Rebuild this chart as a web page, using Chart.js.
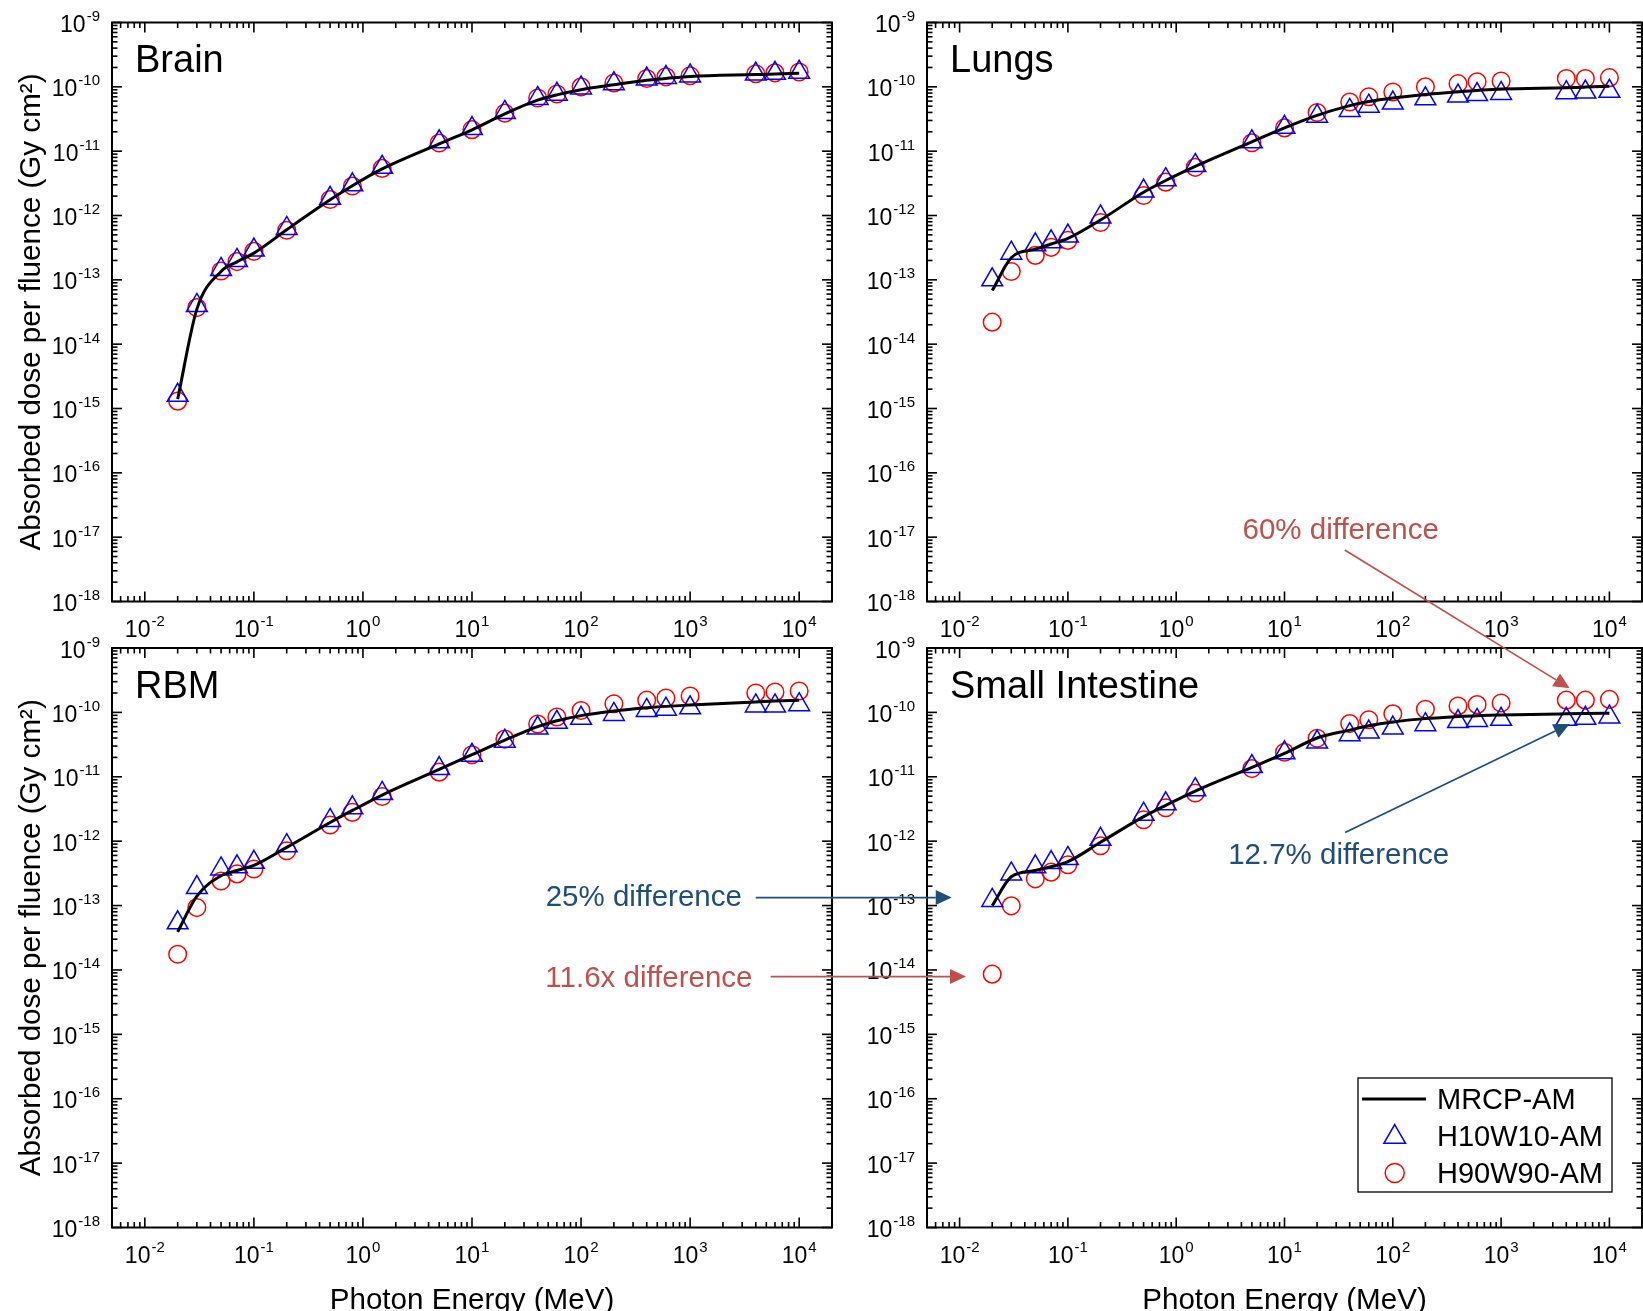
<!DOCTYPE html>
<html>
<head>
<meta charset="utf-8">
<script src="https://cdn.jsdelivr.net/npm/chart.js@4.4.1/dist/chart.umd.min.js"></script>
<style>
  html, body { margin: 0; padding: 0; background: #fff; overflow: hidden; }
  #wrap { position: relative; width: 1643px; height: 1311px; }
  #wrap canvas { position: absolute; left: 0; top: 0; width: 1643px; height: 1311px; }
</style>
</head>
<body>
<div id="wrap">
  <canvas id="brain" width="1643" height="1311"></canvas>
  <canvas id="lungs" width="1643" height="1311"></canvas>
  <canvas id="rbm" width="1643" height="1311"></canvas>
  <canvas id="small" width="1643" height="1311"></canvas>
  <canvas id="notes" width="1643" height="1311"></canvas>
</div>
<script>
// photon energies (MeV)
const energy = [0.02, 0.03, 0.05, 0.07, 0.1, 0.2, 0.5, 0.8, 1.5, 5, 10, 20, 40, 60, 100, 200, 400, 600, 1000, 4000, 6000, 10000];

// Brain
const brainMRCP = [1.4e-15, 3.5e-14, 1.35e-13, 1.9e-13, 2.6e-13, 6.0e-13, 1.75e-12, 2.9e-12, 5.3e-12, 1.3e-11, 2.15e-11, 3.8e-11, 6.2e-11, 7.5e-11, 9.0e-11, 1.08e-10, 1.27e-10, 1.35e-10, 1.45e-10, 1.55e-10, 1.58e-10, 1.62e-10];
const brainH10 = [1.6e-15, 4.0e-14, 1.45e-13, 2.0e-13, 2.9e-13, 6.3e-13, 1.85e-12, 3.0e-12, 5.6e-12, 1.4e-11, 2.25e-11, 4.0e-11, 6.6e-11, 7.7e-11, 9.6e-11, 1.12e-10, 1.32e-10, 1.40e-10, 1.48e-10, 1.58e-10, 1.62e-10, 1.68e-10];
const brainH90 = [1.3e-15, 3.7e-14, 1.37e-13, 1.92e-13, 2.77e-13, 5.9e-13, 1.77e-12, 2.88e-12, 5.4e-12, 1.34e-11, 2.16e-11, 3.9e-11, 6.7e-11, 7.75e-11, 1.0e-10, 1.15e-10, 1.35e-10, 1.43e-10, 1.49e-10, 1.6e-10, 1.65e-10, 1.7e-10];

// Lungs
const lungsMRCP = [6.8e-14, 2.2e-13, 3.0e-13, 3.6e-13, 4.4e-13, 8.5e-13, 2.3e-12, 3.5e-12, 5.8e-12, 1.4e-11, 2.3e-11, 3.6e-11, 5.1e-11, 5.9e-11, 6.7e-11, 7.6e-11, 8.4e-11, 8.8e-11, 9.25e-11, 9.7e-11, 9.9e-11, 1.02e-10];
const lungsH10 = [1.0e-13, 2.6e-13, 3.5e-13, 3.9e-13, 4.8e-13, 9.5e-13, 2.4e-12, 3.6e-12, 6.0e-12, 1.4e-11, 2.35e-11, 3.5e-11, 4.3e-11, 5.0e-11, 5.6e-11, 6.5e-11, 7.2e-11, 7.6e-11, 7.9e-11, 8.1e-11, 8.3e-11, 8.5e-11];
const lungsH90 = [2.2e-14, 1.35e-13, 2.4e-13, 3.2e-13, 4.1e-13, 7.8e-13, 2.05e-12, 3.3e-12, 5.6e-12, 1.35e-11, 2.3e-11, 4.0e-11, 5.8e-11, 7.0e-11, 8.3e-11, 1.0e-10, 1.12e-10, 1.2e-10, 1.23e-10, 1.35e-10, 1.35e-10, 1.39e-10];

// RBM
const rbmMRCP = [3.9e-14, 1.4e-13, 2.9e-13, 3.5e-13, 4.2e-13, 8.0e-13, 1.95e-12, 3.0e-12, 5.2e-12, 1.3e-11, 2.2e-11, 3.7e-11, 6.0e-11, 7.4e-11, 8.9e-11, 1.05e-10, 1.18e-10, 1.24e-10, 1.3e-10, 1.45e-10, 1.5e-10, 1.55e-10];
const rbmH10 = [5.4e-14, 1.9e-13, 3.7e-13, 4.0e-13, 4.7e-13, 8.5e-13, 2.1e-12, 3.3e-12, 5.5e-12, 1.34e-11, 2.15e-11, 3.56e-11, 5.7e-11, 7.0e-11, 8.1e-11, 9.3e-11, 1.07e-10, 1.12e-10, 1.18e-10, 1.26e-10, 1.26e-10, 1.32e-10];
const rbmH90 = [1.75e-14, 9.3e-14, 2.4e-13, 3.1e-13, 3.7e-13, 7.1e-13, 1.78e-12, 2.8e-12, 4.95e-12, 1.18e-11, 2.2e-11, 3.85e-11, 6.6e-11, 8.5e-11, 1.07e-10, 1.36e-10, 1.55e-10, 1.67e-10, 1.8e-10, 2.0e-10, 2.07e-10, 2.15e-10];

// Small Intestine
const siMRCP = [1.0e-13, 2.8e-13, 3.5e-13, 4.0e-13, 4.8e-13, 9.6e-13, 2.4e-12, 3.6e-12, 6.0e-12, 1.4e-11, 2.3e-11, 4.0e-11, 5.3e-11, 6.2e-11, 7.1e-11, 8.0e-11, 8.6e-11, 8.9e-11, 9.1e-11, 9.5e-11, 9.6e-11, 9.7e-11];
const siH10 = [1.2e-13, 3.1e-13, 4.0e-13, 4.65e-13, 5.4e-13, 1.07e-12, 2.63e-12, 3.8e-12, 6.3e-12, 1.44e-11, 2.36e-11, 3.46e-11, 4.5e-11, 4.95e-11, 5.7e-11, 6.45e-11, 7.2e-11, 7.5e-11, 7.8e-11, 7.8e-11, 8.1e-11, 8.5e-11];
const siH90 = [8.6e-15, 9.9e-14, 2.6e-13, 3.3e-13, 4.3e-13, 8.5e-13, 2.15e-12, 3.3e-12, 5.6e-12, 1.34e-11, 2.4e-11, 3.97e-11, 6.7e-11, 7.7e-11, 9.5e-11, 1.12e-10, 1.26e-10, 1.32e-10, 1.4e-10, 1.55e-10, 1.55e-10, 1.59e-10];

// tick labels (powers of ten)
const xTickExp = [-2, -1, 0, 1, 2, 3, 4];
const yTickExp = [-18, -17, -16, -15, -14, -13, -12, -11, -10, -9];

const FONT = '"Liberation Sans", Arial, sans-serif';
const BLUE = '#0000ff';
const RED = '#ff0000';
const NOTE_RED = '#c0504d';
const NOTE_BLUE = '#1f4e79';

function pts(vals) {
  return energy.map((e, i) => ({ x: e, y: vals[i] }));
}

// "10" with a raised exponent
function drawPow(ctx, exp, x, y, align) {
  ctx.font = '23px ' + FONT;
  const w1 = ctx.measureText('10').width;
  ctx.font = '15px ' + FONT;
  const w2 = ctx.measureText(String(exp)).width;
  const x0 = align === 'right' ? x - w1 - w2 - 1 : x - (w1 + w2 + 1) / 2;
  ctx.textAlign = 'left';
  ctx.textBaseline = 'alphabetic';
  ctx.font = '23px ' + FONT;
  ctx.fillText('10', x0, y);
  ctx.font = '15px ' + FONT;
  ctx.fillText(String(exp), x0 + w1 + 1, y - 11);
}

function seg(ctx, x1, y1, x2, y2) {
  ctx.beginPath();
  ctx.moveTo(x1, y1);
  ctx.lineTo(x2, y2);
  ctx.stroke();
}

function marker(ctx, style, x, y, r, color) {
  ctx.strokeStyle = color;
  ctx.lineWidth = 1.5;
  ctx.beginPath();
  if (style === 'triangle') {
    for (let k = 0; k < 3; k++) {
      const a = k * 2 * Math.PI / 3;
      const px = x + Math.sin(a) * r, py = y - Math.cos(a) * r;
      if (k === 0) ctx.moveTo(px, py); else ctx.lineTo(px, py);
    }
    ctx.closePath();
  } else {
    ctx.arc(x, y, r, 0, Math.PI * 2);
  }
  ctx.stroke();
}

// frame, inward ticks, tick labels, titles, legend
const framePlugin = {
  id: 'frame',
  afterDraw(chart, args, opts) {
    const ctx = chart.ctx;
    const a = chart.chartArea;
    const xs = chart.scales.x, ys = chart.scales.y;
    ctx.save();
    ctx.strokeStyle = '#000';
    ctx.fillStyle = '#000';
    ctx.lineWidth = 1.6;
    for (let e = -3; e <= 4; e++) {
      for (let m = 1; m <= 9; m++) {
        const v = m * Math.pow(10, e);
        if (v <= xs.min * 1.0001 || v >= xs.max * 0.9999) continue;
        const px = xs.getPixelForValue(v);
        const len = m === 1 ? 10 : 5.5;
        seg(ctx, px, a.bottom, px, a.bottom - len);
        seg(ctx, px, a.top, px, a.top + len);
      }
    }
    for (let e = -19; e <= -9; e++) {
      for (let m = 1; m <= 9; m++) {
        const v = m * Math.pow(10, e);
        if (v <= ys.min * 1.0001 || v >= ys.max * 0.9999) continue;
        const py = ys.getPixelForValue(v);
        const len = m === 1 ? 10 : 5.5;
        seg(ctx, a.left, py, a.left + len, py);
        seg(ctx, a.right, py, a.right - len, py);
      }
    }
    // major ticks at the corners
    [ys.min, ys.max].forEach(v => {
      const py = ys.getPixelForValue(v);
      seg(ctx, a.left, py, a.left + 10, py);
      seg(ctx, a.right, py, a.right - 10, py);
    });
    ctx.lineWidth = 2;
    ctx.strokeRect(a.left, a.top, a.right - a.left, a.bottom - a.top);

    xTickExp.forEach(e => drawPow(ctx, e, xs.getPixelForValue(Math.pow(10, e)), a.bottom + 35, 'center'));
    yTickExp.forEach(e => drawPow(ctx, e, a.left - 12, ys.getPixelForValue(Math.pow(10, e)) + 9.5, 'right'));

    ctx.textAlign = 'left';
    ctx.textBaseline = 'alphabetic';
    ctx.font = '38px ' + FONT;
    ctx.fillText(opts.name, a.left + 23, a.top + 49.5);

    if (opts.yTitle) {
      ctx.save();
      ctx.translate(40, (a.top + a.bottom) / 2);
      ctx.rotate(-Math.PI / 2);
      ctx.textAlign = 'center';
      ctx.font = '29.6px ' + FONT;
      ctx.fillText('Absorbed dose per fluence (Gy cm\u00b2)', 0, 0);
      ctx.restore();
    }
    if (opts.xTitle) {
      ctx.textAlign = 'center';
      ctx.font = '29.6px ' + FONT;
      ctx.fillText('Photon Energy (MeV)', (a.left + a.right) / 2, a.bottom + 81.5);
    }
    if (opts.legend) {
      const bx = a.right - 284, by = a.bottom - 149.5, bw = 254, bh = 114;
      ctx.fillStyle = '#fff';
      ctx.fillRect(bx, by, bw, bh);
      ctx.strokeStyle = '#000';
      ctx.lineWidth = 1.3;
      ctx.strokeRect(bx, by, bw, bh);
      const ds = chart.data.datasets;
      const rows = [by + 21, by + 58, by + 95];
      ctx.lineWidth = 3;
      seg(ctx, bx + 4, rows[0], bx + 68, rows[0]);
      marker(ctx, 'triangle', bx + 36.7, rows[1] + 1, 12.5, BLUE);
      marker(ctx, 'circle', bx + 36.7, rows[2], 9.5, RED);
      ctx.fillStyle = '#000';
      ctx.font = '29px ' + FONT;
      ctx.textAlign = 'left';
      ds.forEach((d, i) => ctx.fillText(d.label, bx + 79, rows[i] + 10));
    }
    ctx.restore();
  }
};

function makePanel(id, name, mrcp, h10, h90, pad, extra) {
  return new Chart(document.getElementById(id), {
    type: 'line',
    data: {
      datasets: [
        { label: 'MRCP-AM', data: pts(mrcp), borderColor: '#000', borderWidth: 3,
          pointRadius: 0, cubicInterpolationMode: 'monotone', fill: false },
        { label: 'H10W10-AM', data: pts(h10), showLine: false, pointStyle: 'triangle',
          pointRadius: 12, pointBorderWidth: 1.5, borderColor: BLUE,
          pointBorderColor: BLUE, pointBackgroundColor: 'rgba(0,0,0,0)' },
        { label: 'H90W90-AM', data: pts(h90), showLine: false, pointStyle: 'circle',
          pointRadius: 8.8, pointBorderWidth: 1.5, borderColor: RED,
          pointBorderColor: RED, pointBackgroundColor: 'rgba(0,0,0,0)' }
      ]
    },
    options: {
      responsive: false,
      maintainAspectRatio: false,
      animation: false,
      events: [],
      layout: { padding: pad, autoPadding: false },
      scales: {
        x: { type: 'logarithmic', min: 0.005, max: 20000, bounds: 'data', display: false },
        y: { type: 'logarithmic', min: 1e-18, max: 1e-9, bounds: 'data', display: false }
      },
      plugins: {
        legend: { display: false },
        tooltip: { enabled: false },
        frame: Object.assign({ name: name }, extra)
      }
    },
    plugins: [framePlugin]
  });
}

const panels = {
  brain: makePanel('brain', 'Brain', brainMRCP, brainH10, brainH90,
    { left: 112, top: 22.5, right: 811, bottom: 709.5 }, { yTitle: true }),
  lungs: makePanel('lungs', 'Lungs', lungsMRCP, lungsH10, lungsH90,
    { left: 927, top: 22.5, right: 1, bottom: 709.5 }, {}),
  rbm: makePanel('rbm', 'RBM', rbmMRCP, rbmH10, rbmH90,
    { left: 112, top: 648, right: 811, bottom: 83.5 }, { yTitle: true, xTitle: true }),
  small: makePanel('small', 'Small Intestine', siMRCP, siH10, siH90,
    { left: 927, top: 648, right: 1, bottom: 83.5 }, { xTitle: true, legend: true })
};

// annotations, anchored in the data coordinates of a panel
const notes = [
  { text: '60% difference', color: NOTE_RED, at: ['lungs', 33, 1.25e-17],
    from: ['lungs', 36, 6.3e-18], to: ['small', 4300, 2.37e-10] },
  { text: '12.7% difference', color: NOTE_BLUE, at: ['small', 31.6, 5.85e-13],
    from: ['small', 36.3, 1.36e-12], to: ['small', 4300, 6.6e-11] },
  { text: '25% difference', color: NOTE_BLUE, at: ['rbm', 376, 1.3e-13],
    from: ['rbm', 4000, 1.33e-13], to: ['small', 0.00846, 1.33e-13] },
  { text: '11.6x difference', color: NOTE_RED, at: ['rbm', 419, 7.16e-15],
    from: ['rbm', 5480, 7.9e-15], to: ['small', 0.01146, 7.9e-15] }
];

function toPx(ref) {
  const c = panels[ref[0]];
  return [c.scales.x.getPixelForValue(ref[1]), c.scales.y.getPixelForValue(ref[2])];
}

function arrow(ctx, p1, p2, color) {
  const ang = Math.atan2(p2[1] - p1[1], p2[0] - p1[0]);
  const L = 16, W = 7.5;
  const bx = p2[0] - L * Math.cos(ang), by = p2[1] - L * Math.sin(ang);
  ctx.strokeStyle = color;
  ctx.lineWidth = 1.7;
  seg(ctx, p1[0], p1[1], bx, by);
  ctx.fillStyle = color;
  ctx.beginPath();
  ctx.moveTo(p2[0], p2[1]);
  ctx.lineTo(bx - W * Math.sin(ang), by + W * Math.cos(ang));
  ctx.lineTo(bx + W * Math.sin(ang), by - W * Math.cos(ang));
  ctx.closePath();
  ctx.fill();
}

const nctx = document.getElementById('notes').getContext('2d');
notes.forEach(n => {
  const p = toPx(n.at);
  nctx.fillStyle = n.color;
  nctx.font = '29.5px ' + FONT;
  nctx.textAlign = 'center';
  nctx.textBaseline = 'middle';
  nctx.fillText(n.text, p[0], p[1]);
  arrow(nctx, toPx(n.from), toPx(n.to), n.color);
});
</script>
</body>
</html>
